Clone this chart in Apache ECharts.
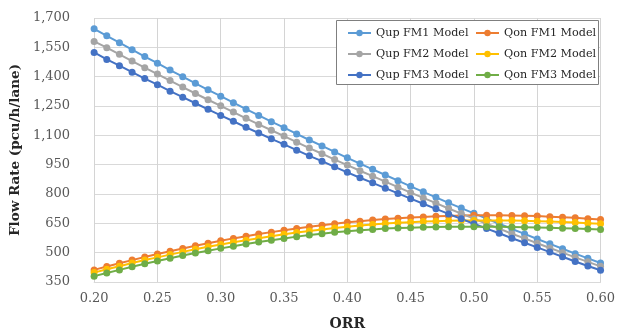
<!DOCTYPE html>
<html>
<head>
<meta charset="utf-8">
<script src="https://cdn.jsdelivr.net/npm/echarts@6/dist/echarts.min.js"></script>
<style>
  html, body { margin: 0; padding: 0; background: #fff; }
  #chart { width: 618px; height: 336px; }
</style>
</head>
<body>
<div id="chart"></div>
<script>
const orr = [0.20, 0.21, 0.22, 0.23, 0.24, 0.25, 0.26, 0.27, 0.28, 0.29,
    0.30, 0.31, 0.32, 0.33, 0.34, 0.35, 0.36, 0.37, 0.38, 0.39,
    0.40, 0.41, 0.42, 0.43, 0.44, 0.45, 0.46, 0.47, 0.48, 0.49,
    0.50, 0.51, 0.52, 0.53, 0.54, 0.55, 0.56, 0.57, 0.58, 0.59, 0.60];

const qupFM1 = [1645, 1609, 1574, 1538, 1503, 1469, 1434, 1400, 1366, 1333,
    1300, 1267, 1234, 1202, 1170, 1139, 1107, 1076, 1046, 1015,
    985, 955, 926, 897, 868, 839, 811, 783, 755, 728,
    701, 674, 648, 621, 596, 570, 545, 520, 495, 471, 447];
const qupFM2 = [1580, 1548, 1514, 1480, 1446, 1413, 1380, 1347, 1314, 1282,
    1251, 1219, 1187, 1156, 1126, 1096, 1065, 1035, 1006, 976,
    948, 919, 891, 863, 835, 807, 780, 753, 726, 700,
    674, 648, 623, 597, 573, 548, 524, 500, 476, 453, 430];
const qupFM3 = [1524, 1488, 1456, 1423, 1390, 1359, 1326, 1295, 1264, 1233,
    1202, 1172, 1141, 1112, 1082, 1054, 1024, 995, 968, 939,
    911, 883, 857, 830, 803, 776, 750, 724, 698, 673,
    648, 623, 599, 574, 551, 527, 503, 479, 455, 432, 410];
const qonFM1 = [412, 429, 446, 462, 478, 493, 507, 521, 535, 548,
    561, 573, 584, 595, 605, 615, 624, 632, 640, 648,
    655, 661, 667, 672, 676, 680, 683, 686, 688, 690,
    691, 691, 691, 690, 689, 687, 684, 681, 678, 674, 670];
const qonFM2 = [398, 415, 431, 447, 462, 476, 490, 504, 517, 530,
    542, 553, 564, 574, 584, 594, 603, 611, 619, 626,
    633, 639, 644, 649, 653, 656, 659, 661, 663, 664,
    665, 665, 665, 664, 663, 661, 659, 657, 654, 651, 648];
const qonFM3 = [380, 396, 412, 428, 443, 457, 471, 485, 498, 510,
    522, 533, 544, 554, 564, 573, 582, 590, 597, 604,
    610, 615, 619, 623, 626, 628, 630, 631, 632, 633,
    633, 633, 632, 631, 630, 629, 627, 625, 623, 621, 619];

const yTicks = [350, 500, 650, 800, 950, 1100, 1250, 1400, 1550, 1700];

const seriesDefs = [
    { name: 'Qup FM1 Model', data: qupFM1, color: '#5B9BD5' },
    { name: 'Qon FM1 Model', data: qonFM1, color: '#ED7D31' },
    { name: 'Qup FM2 Model', data: qupFM2, color: '#A5A5A5' },
    { name: 'Qon FM2 Model', data: qonFM2, color: '#FFC000' },
    { name: 'Qup FM3 Model', data: qupFM3, color: '#4472C4' },
    { name: 'Qon FM3 Model', data: qonFM3, color: '#70AD47' }
];

const serif = 'DejaVu Serif';

const legendBase = {
    orient: 'vertical',
    top: 21,
    z: 20,
    itemWidth: 23,
    itemHeight: 8,
    itemGap: 7,
    textStyle: { fontFamily: serif, fontSize: 11.2, color: '#262626', lineHeight: 14 }
};

const option = {
    animation: false,
    backgroundColor: '#fff',
    grid: { left: 80, right: 15, top: 18, bottom: 54 },
    graphic: [{
        type: 'rect',
        shape: { x: 336.5, y: 20.5, width: 262, height: 64 },
        style: { fill: '#fff', stroke: '#7f7f7f', lineWidth: 1 },
        z: 10
    }],
    legend: [
        Object.assign({}, legendBase, {
            left: 342,
            data: ['Qup FM1 Model', 'Qup FM2 Model', 'Qup FM3 Model']
        }),
        Object.assign({}, legendBase, {
            left: 470,
            data: ['Qon FM1 Model', 'Qon FM2 Model', 'Qon FM3 Model']
        })
    ],
    xAxis: {
        type: 'value',
        min: 0.2,
        max: 0.6,
        interval: 0.05,
        name: 'ORR',
        nameLocation: 'middle',
        nameGap: 35,
        nameTextStyle: { fontFamily: serif, fontSize: 14, fontWeight: 'bold', color: '#262626' },
        axisLine: { lineStyle: { color: '#d9d9d9' } },
        axisTick: { show: false },
        axisLabel: {
            margin: 10,
            fontFamily: serif,
            fontSize: 13,
            color: '#595959',
            formatter: v => v.toFixed(2)
        },
        splitLine: { show: true, lineStyle: { color: '#d4d4d4', width: 1 } }
    },
    yAxis: {
        type: 'value',
        min: 350,
        max: 1700,
        name: 'Flow Rate (pcu/h/lane)',
        nameLocation: 'middle',
        nameGap: 60,
        nameTextStyle: { fontFamily: serif, fontSize: 13.5, fontWeight: 'bold', color: '#262626' },
        axisLine: { show: false },
        axisTick: { show: false, customValues: yTicks },
        axisLabel: {
            customValues: yTicks,
            margin: 24,
            fontFamily: serif,
            fontSize: 13,
            color: '#595959',
            formatter: v => v.toLocaleString('en-US')
        },
        splitLine: { show: true, lineStyle: { color: '#d9d9d9' } }
    },
    series: seriesDefs.map(s => ({
        name: s.name,
        type: 'line',
        data: orr.map((x, i) => [x, s.data[i]]),
        symbol: 'circle',
        symbolSize: 7,
        showSymbol: true,
        color: s.color,
        lineStyle: { width: 2, color: s.color },
        itemStyle: { color: s.color }
    }))
};

const chart = echarts.init(document.getElementById('chart'));
chart.setOption(option);
</script>
</body>
</html>
